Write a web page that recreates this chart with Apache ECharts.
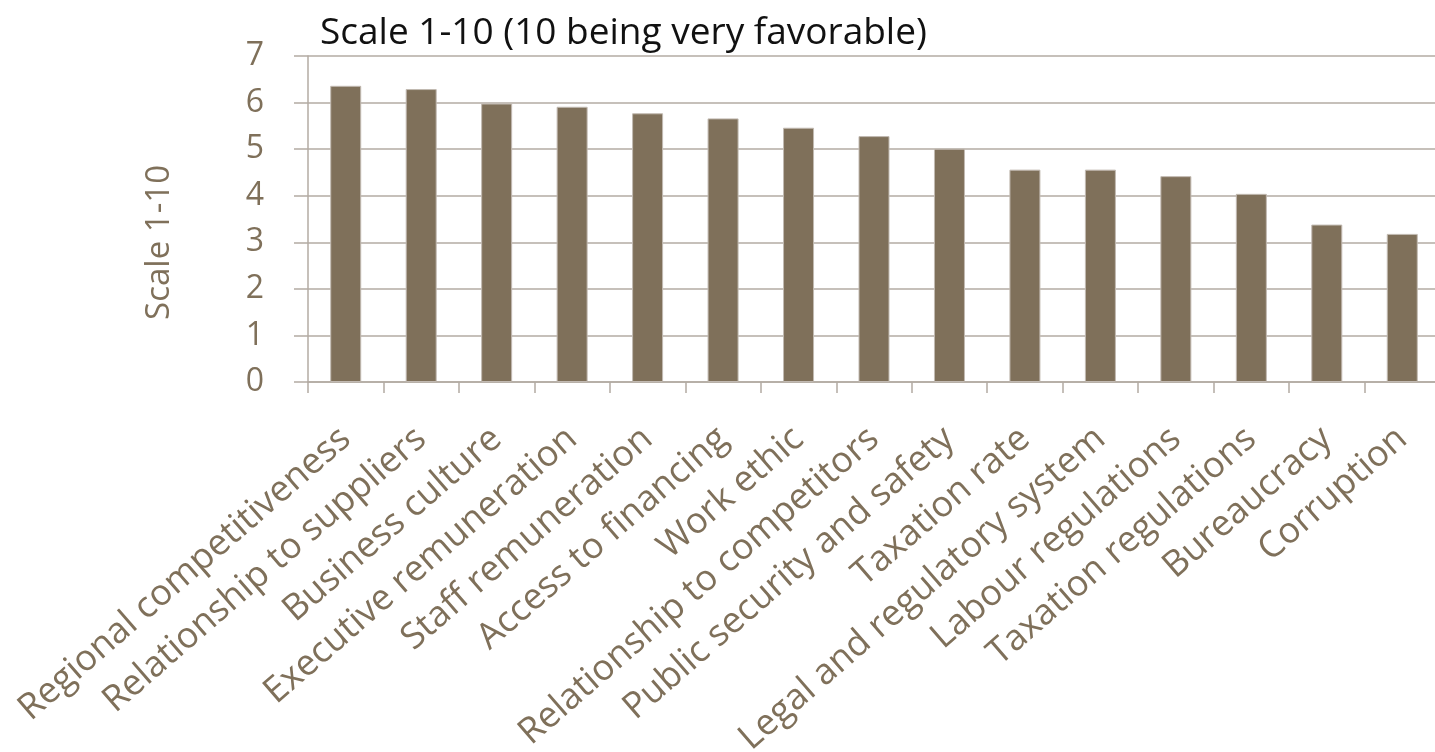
<!DOCTYPE html>
<html>
<head>
<meta charset="utf-8">
<script src="https://cdn.jsdelivr.net/npm/echarts@6/dist/echarts.min.js"></script>
<style>
  html, body { margin: 0; padding: 0; background: #ffffff; }
  #chart { width: 1435px; height: 752px; }
</style>
</head>
<body>
<div id="chart"></div>
<script>
// Business-environment factors, rated on a 1-10 scale
const categories = [
  'Regional competitiveness',
  'Relationship to suppliers',
  'Business culture',
  'Executive remuneration',
  'Staff remuneration',
  'Access to financing',
  'Work ethic',
  'Relationship to competitors',
  'Public security and safety',
  'Taxation rate',
  'Legal and regulatory system',
  'Labour regulations',
  'Taxation regulations',
  'Bureaucracy',
  'Corruption'
];
const scores = [6.36, 6.29, 5.98, 5.91, 5.77, 5.66, 5.46, 5.28, 5.01, 4.56, 4.56, 4.42, 4.04, 3.38, 3.18];
const yTicks = [0, 1, 2, 3, 4, 5, 6, 7];

const brown = '#7f705a';
const axisGrey = '#b3aba3';
const fontFamily = '"Open Sans", "DejaVu Sans", sans-serif';

const chart = echarts.init(document.getElementById('chart'), null, { renderer: 'canvas' });

chart.setOption({
  animation: false,
  backgroundColor: '#ffffff',
  title: {
    text: 'Scale 1-10 (10 being very favorable)',
    left: 315,
    top: 10,
    textStyle: { color: '#111111', fontFamily, fontWeight: 'normal', fontSize: 37 }
  },
  graphic: [{
    type: 'text',
    left: 143,
    top: 165,
    rotation: Math.PI / 2,
    style: {
      text: 'Scale 1-10',
      fill: brown,
      font: '33px "Open Sans", sans-serif'
    }
  }],
  // fixed plot box; the long rotated labels may run to the page edge
  grid: { left: 308, right: -5, top: 56, bottom: 370, containLabel: false, outerBoundsMode: 'none' },
  xAxis: {
    type: 'category',
    data: categories,
    axisLine: { show: true, lineStyle: { color: axisGrey, width: 1.5 } },
    axisTick: { show: true, length: 11, alignWithLabel: false, lineStyle: { color: axisGrey, width: 1.5 } },
    axisLabel: {
      interval: 0,
      rotate: 41,
      margin: 52,
      color: brown,
      fontFamily,
      fontSize: 36
    }
  },
  yAxis: {
    type: 'value',
    min: yTicks[0],
    max: yTicks[yTicks.length - 1],
    interval: 1,
    axisLine: { show: true, lineStyle: { color: axisGrey, width: 1.5 } },
    axisTick: { show: true, length: 14, lineStyle: { color: axisGrey, width: 1.5 } },
    splitLine: { show: true, lineStyle: { color: axisGrey, width: 1.5 } },
    axisLabel: { margin: 44, color: brown, fontFamily, fontSize: 32 }
  },
  series: [{
    type: 'bar',
    data: scores,
    barWidth: 31,
    itemStyle: { color: brown, borderColor: '#c2bab2', borderWidth: 1 }
  }]
});
</script>
</body>
</html>
